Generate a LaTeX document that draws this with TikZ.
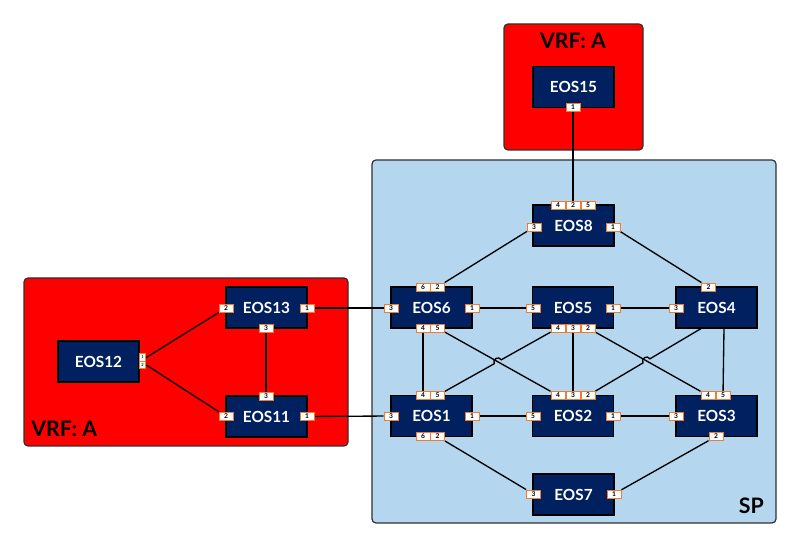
\documentclass[tikz,border=0pt]{standalone}
\usepackage{fontspec}
\setmainfont{Lato}
\usetikzlibrary{calc}
\definecolor{navy}{HTML}{002060}
\definecolor{spblue}{HTML}{B4D6EE}
\definecolor{portorange}{HTML}{ED7D31}
\definecolor{vrfred}{HTML}{FF0000}
\definecolor{rimgray}{HTML}{303030}
\pgfdeclarelayer{back}
\pgfdeclarelayer{edges}
\pgfsetlayers{back,edges,main}
\tikzset{
  region/.style={draw=rimgray, line width=0.9pt, rounded corners=3pt},
  dev/.style={draw=black, line width=1.2pt, fill=navy, text=white, font=\bfseries\fontsize{11.5}{12}\selectfont,
    minimum width=60.75pt, minimum height=30.75pt, inner sep=0pt},
  port/.style={draw=portorange, line width=0.7pt, fill=white, text=black, font=\bfseries\fontsize{5}{5}\selectfont,
    minimum width=10.5pt, minimum height=6pt, inner sep=0pt},
  tport/.style={port, minimum width=5pt, minimum height=5.5pt, font=\bfseries\fontsize{3}{3}\selectfont},
  link/.style={draw=black, line width=1pt},
  vrflabel/.style={font=\bfseries\fontsize{16}{18}\selectfont, text=black, inner sep=0pt},
}
\begin{document}
\begin{tikzpicture}[x=0.75pt,y=-0.75pt]
\useasboundingbox (0,0) rectangle (800,548);
% region boxes
\begin{pgfonlayer}{back}
\draw[region, fill=vrfred] (504,24) rectangle (643,150);
\draw[region, fill=spblue] (372,160) rectangle (776,523);
\draw[region, fill=vrfred] (24,278) rectangle (348,446);
\end{pgfonlayer}
\node[vrflabel] (vrftop) at (573,41) {VRF: A};
\node[vrflabel, anchor=west] (vrfleft) at (31,429) {VRF: A};
\node[vrflabel, anchor=east] (splabel) at (764,506) {SP};

% devices
\node[dev] (e15) at (573.5,87) {EOS15};
\node[dev] (e8) at (573.5,225.5) {EOS8};
\node[dev] (e6) at (431.5,307.5) {EOS6};
\node[dev] (e5) at (573,307.5) {EOS5};
\node[dev] (e4) at (716.5,307.5) {EOS4};
\node[dev] (e1) at (431.5,416) {EOS1};
\node[dev] (e2) at (573,416) {EOS2};
\node[dev] (e3) at (716.5,416) {EOS3};
\node[dev] (e7) at (573.5,494.5) {EOS7};
\node[dev] (e13) at (266.5,307.5) {EOS13};
\node[dev] (e11) at (266.5,416.5) {EOS11};
\node[dev] (e12) at (98.5,361.5) {EOS12};

% ports
\node[port] (p15a) at (573,107) {1};
\node[port] (p8d) at (558,205) {4};
\node[port] (p8b) at (573,205) {2};
\node[port] (p8e) at (588,205) {5};
\node[port] (p8c) at (534,227) {3};
\node[port] (p8a) at (613,227) {1};

\node[port] (p6f) at (423,287) {6};
\node[port] (p6b) at (437.5,287) {2};
\node[port] (p6c) at (391,308) {3};
\node[port] (p6a) at (472,308) {1};
\node[port] (p6d) at (423,328) {4};
\node[port] (p6e) at (437.5,328) {5};

\node[port] (p5e) at (533,308) {5};
\node[port] (p5a) at (613,308) {1};
\node[port] (p5d) at (558,328) {4};
\node[port] (p5c) at (573,328) {3};
\node[port] (p5b) at (588,328) {2};

\node[port] (p4b) at (708.5,287) {2};
\node[port] (p4c) at (676,308) {3};
\coordinate (p4x) at (702,328);
\coordinate (p4y) at (724,328);

\node[port] (p1d) at (423,395.5) {4};
\node[port] (p1e) at (437.5,395.5) {5};
\node[port] (p1c) at (391,416) {3};
\node[port] (p1a) at (472,416) {1};
\node[port] (p1f) at (423,436.5) {6};
\node[port] (p1b) at (437.5,436.5) {2};

\node[port] (p2d) at (558,395.5) {4};
\node[port] (p2c) at (573,395.5) {3};
\node[port] (p2b) at (588,395.5) {2};
\node[port] (p2e) at (533,416) {5};
\node[port] (p2a) at (613,416) {1};

\node[port] (p3d) at (708,395.5) {4};
\node[port] (p3e) at (723,395.5) {5};
\node[port] (p3c) at (676,416) {3};
\node[port] (p3b) at (716,436.5) {2};

\node[port] (p7c) at (533.5,494) {3};
\node[port] (p7a) at (614,494) {1};

\node[port] (p13b) at (226,308) {2};
\node[port] (p13a) at (307,308) {1};
\node[port] (p13c) at (266,328) {3};

\node[port] (p11c) at (266,396) {3};
\node[port] (p11b) at (226,416.5) {2};
\node[port] (p11a) at (307,416.5) {1};

\node[tport] (p12a) at (142.5,357.5) {1};
\node[tport] (p12b) at (142.5,365) {2};

% hop points
\coordinate (h1a) at (501.24,359.79);
\coordinate (h1b) at (494.26,363.71);
\coordinate (h2a) at (649.90,358.84);
\coordinate (h2b) at (643.02,362.92);

% links
\begin{pgfonlayer}{edges}
\draw[link] (p15a) -- (p8b);
\draw[link] (p8c) -- (p6b);
\draw[link] (p8a) -- (p4b);
\draw[link] (p6a) -- (p5e);
\draw[link] (p5a) -- (p4c);
\draw[link] (p6d) -- (p1d);
\draw[link] (p6e) -- (p2d);
\draw[link] (p5d) -- (h1a) .. controls (498.79,355.43) and (491.81,359.35) .. (h1b) -- (p1e);
\draw[link] (p5c) -- (p2c);
\draw[link] (p5b) -- (p3d);
\draw[link] (p4x) -- (h2a) .. controls (647.35,354.54) and (640.47,358.62) .. (h2b) -- (p2b);
\draw[link] (p4y) -- (p3e);
\draw[link] (p1a) -- (p2e);
\draw[link] (p2a) -- (p3c);
\draw[link] (p1b) -- (p7c);
\draw[link] (p3b) -- (p7a);
\draw[link] (p13a) -- (p6c);
\draw[link] (p11a) -- (p1c);
\draw[link] (p13c) -- (p11c);
\draw[link] (p12a.east) -- (p13b);
\draw[link] (p12b.east) -- (p11b);
\end{pgfonlayer}
\end{tikzpicture}
\end{document}
